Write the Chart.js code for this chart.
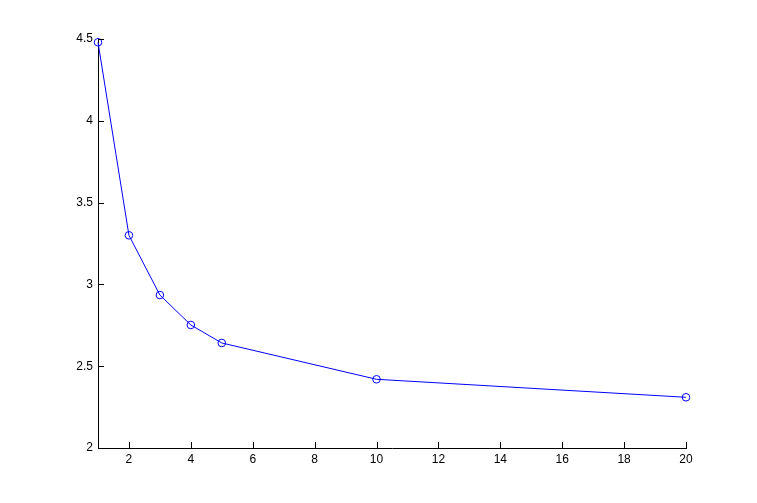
<!DOCTYPE html>
<html><head><meta charset="utf-8">
<script src="https://cdn.jsdelivr.net/npm/chart.js@4/dist/chart.umd.min.js"></script>
<style>html,body{margin:0;padding:0;background:#fff}#w{width:757px;height:503px}</style>
</head><body><div id="w"><canvas id="c" width="757" height="503"></canvas></div>
<script>
const xValues = [1, 2, 3, 4, 5, 10, 20];
const yValues = [4.48, 3.30, 2.935, 2.752, 2.642, 2.42, 2.31];
const xTicks = [2, 4, 6, 8, 10, 12, 14, 16, 18, 20];
const yTicks = [2, 2.5, 3, 3.5, 4, 4.5];

const inwardTicks = {
  id: 'inwardTicks',
  afterDraw(chart) {
    const ctx = chart.ctx, xs = chart.scales.x, ys = chart.scales.y, a = chart.chartArea;
    ctx.save();
    ctx.strokeStyle = '#000'; ctx.lineWidth = 1;
    ctx.beginPath();
    xTicks.forEach(v => { const px = Math.round(xs.getPixelForValue(v)) + 0.5; ctx.moveTo(px, a.bottom); ctx.lineTo(px, a.bottom - 6); });
    yTicks.forEach(v => { const py = Math.round(ys.getPixelForValue(v)) + 0.5; ctx.moveTo(a.left, py); ctx.lineTo(a.left + 6, py); });
    ctx.stroke();
    ctx.restore();
  }
};

new Chart(document.getElementById('c'), {
  type: 'line',
  data: { datasets: [{
    data: xValues.map((x, i) => ({x, y: yValues[i]})),
    borderColor: '#0000ff', borderWidth: 1, clip: false,
    pointStyle: 'circle', pointRadius: 3.8, pointBorderColor: '#0000ff', pointBackgroundColor: 'rgba(0,0,0,0)', pointBorderWidth: 1,
    tension: 0, fill: false
  }]},
  options: {
    responsive: false, animation: false,
    layout: { padding: { left: 0, top: 39, right: 71, bottom: 0 } },
    plugins: { legend: { display: false }, tooltip: { enabled: false } },
    scales: {
      x: {
        type: 'linear', min: 1, max: 20,
        afterBuildTicks: s => { s.ticks = xTicks.map(v => ({value: v})); },
        afterFit: s => { s.height = 55; },
        grid: { display: false, drawTicks: false },
        border: { display: true, color: '#000', width: 1 },
        ticks: { color: '#000', font: { family: 'Liberation Sans', size: 12 }, padding: 4, maxRotation: 0, autoSkip: false, callback: v => String(v) }
      },
      y: {
        type: 'linear', min: 2, max: 4.5,
        afterBuildTicks: s => { s.ticks = yTicks.map(v => ({value: v})); },
        afterFit: s => { s.width = 98; },
        grid: { display: false, drawTicks: false },
        border: { display: true, color: '#000', width: 1 },
        ticks: { color: '#000', font: { family: 'Liberation Sans', size: 12 }, padding: 5, callback: v => String(v) }
      }
    }
  },
  plugins: [inwardTicks]
});
</script></body></html>
